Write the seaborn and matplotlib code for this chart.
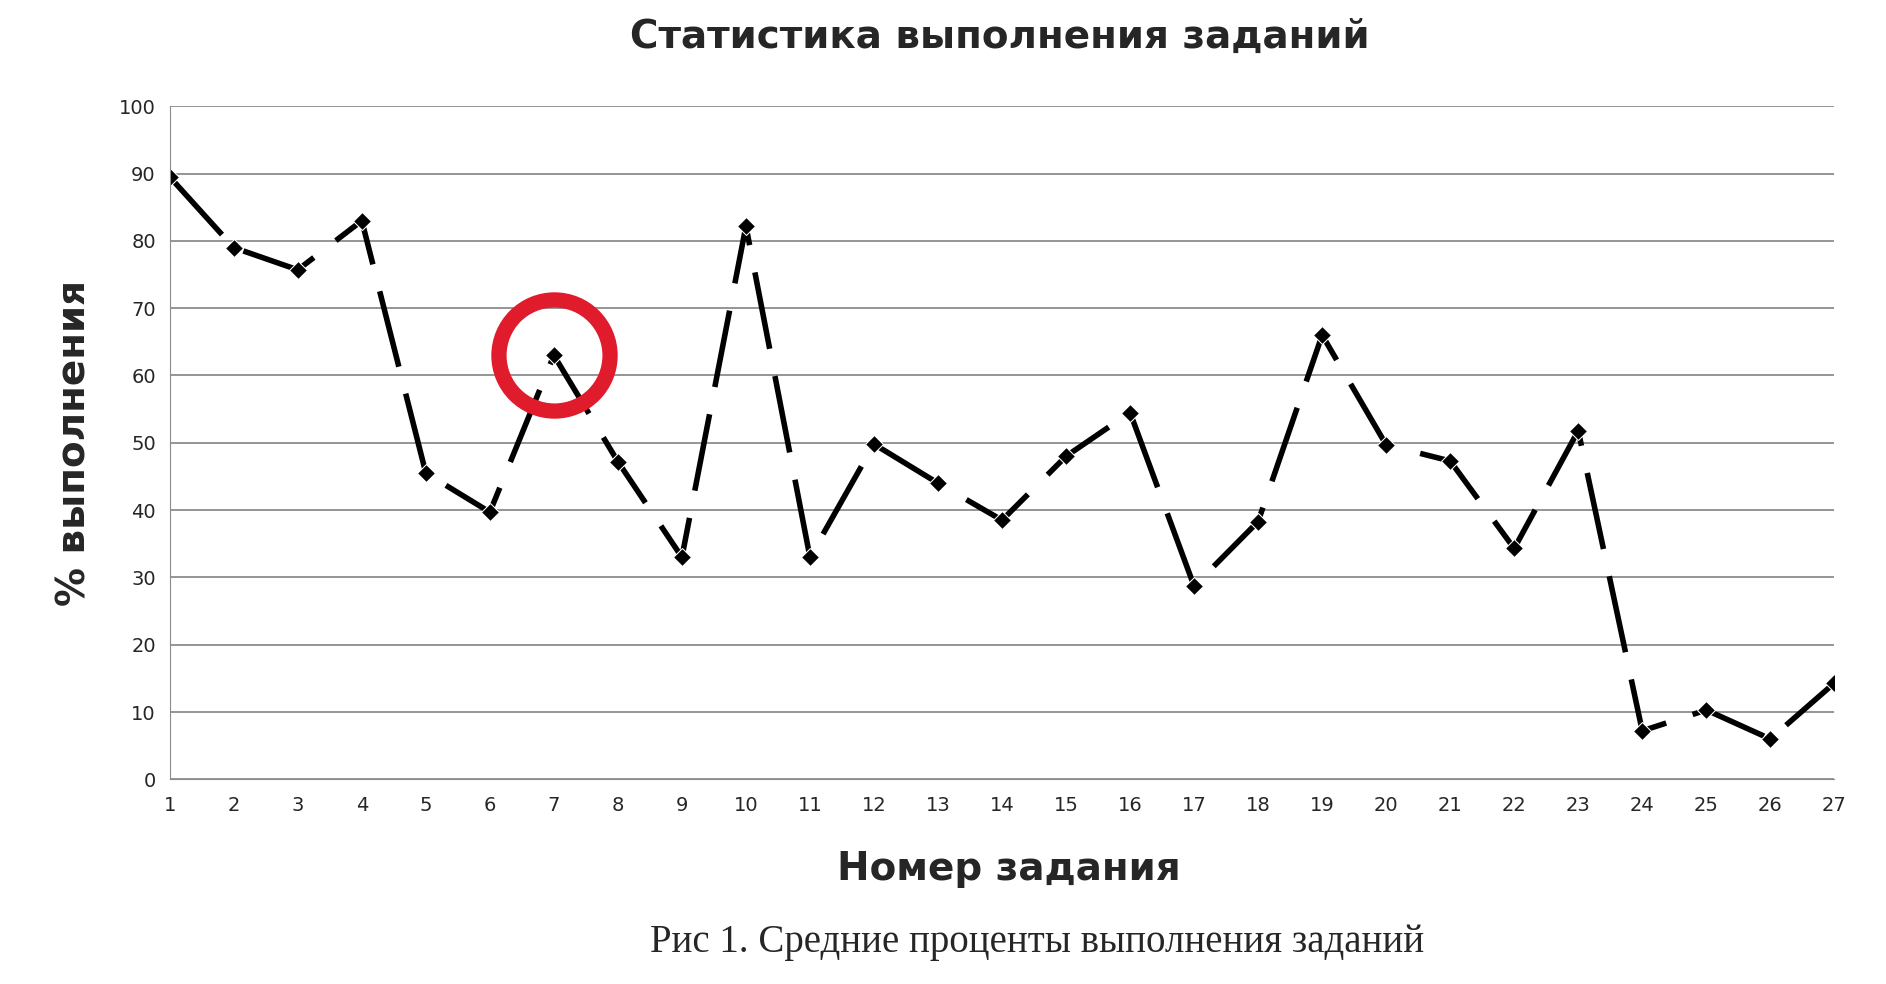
import matplotlib
matplotlib.use("Agg")
import matplotlib.pyplot as plt
import seaborn as sns
import pandas as pd

tasks = list(range(1, 28))
percent = [89.5, 79, 75.7, 83, 45.5, 39.7, 63, 47.2, 33, 82.2, 33, 49.8, 44, 38.5, 48,
           54.5, 28.7, 38.3, 66, 49.7, 47.3, 34.3, 51.8, 7.2, 10.3, 6, 14.3]
highlight_task = 7
yticks = list(range(0, 101, 10))

df = pd.DataFrame({"task": tasks, "pct": percent})

sns.set_style("white")
plt.rcParams['font.family'] = ['DejaVu Sans']
fig = plt.figure(figsize=(18.86, 9.84), dpi=100)
ax = fig.add_axes([0.09, 0.208, 0.8826, 0.684])

sns.lineplot(data=df, x="task", y="pct", ax=ax, color="black", linewidth=4,
             marker="D", markersize=9, dashes=False)
ax.lines[0].set_dashes([14, 5])

hy = percent[tasks.index(highlight_task)]
ax.plot([highlight_task], [hy], marker="o", markersize=80, markerfacecolor="none",
        markeredgecolor="#e01b2c", markeredgewidth=11, zorder=5)

ax.set_xlim(1, 27)
ax.set_ylim(0, 100)
ax.set_xticks(tasks)
ax.set_yticks(yticks)
ax.yaxis.grid(True, color="#8c8c8c", linewidth=1.3)
for s in ["top", "right"]:
    ax.spines[s].set_visible(False)
ax.spines["left"].set_color("#8c8c8c")
ax.spines["bottom"].set_color("#8c8c8c")
ax.tick_params(axis="x", length=6, color="#8c8c8c", labelsize=14, pad=6)
ax.tick_params(axis="y", length=0, labelsize=14, pad=10)
ax.set_xlabel("")
ax.set_ylabel("% выполнения", fontsize=28, fontweight="bold", labelpad=18)

fig.text(0.53, 0.962, "Статистика выполнения заданий", ha="center", va="center",
         fontsize=28, fontweight="bold")
fig.text(0.535, 0.117, "Номер задания", ha="center", va="center",
         fontsize=28, fontweight="bold")
fig.text(0.55, 0.042, "Рис 1. Средние проценты выполнения заданий", ha="center",
         va="center", fontsize=28, family=["Liberation Serif"])

fig.savefig("out.png", dpi=100)
